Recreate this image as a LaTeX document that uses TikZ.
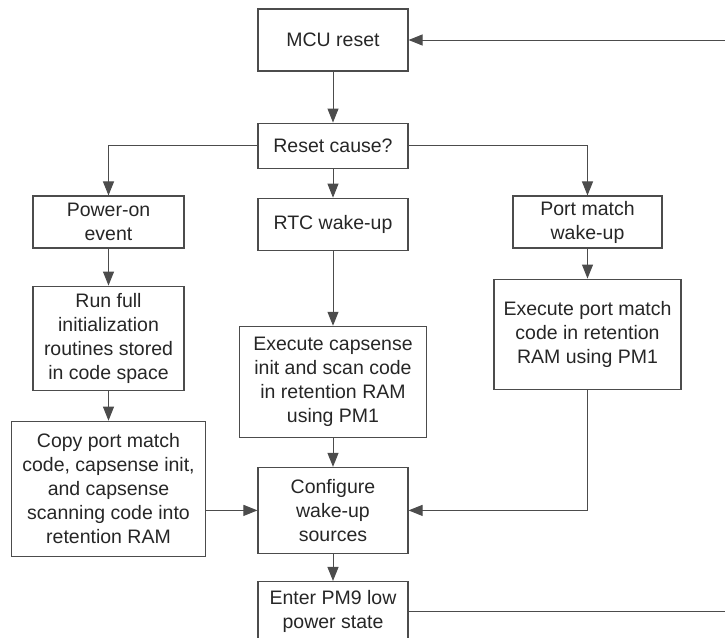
\documentclass[tikz,border=0pt]{standalone}
\usepackage{fontspec}
\setmainfont{Liberation Sans}
\usetikzlibrary{arrows.meta,positioning}
\tikzset{
  b/.style={rectangle,draw=black!70,line width=1.1pt,text=black!85,align=center,inner sep=2pt,minimum width=150pt,font=\fontsize{19.5}{24}\selectfont},
  arr/.style={-{Triangle[length=14pt,width=11pt]},line width=1pt,draw=black!70},
}

\begin{document}
\begin{tikzpicture}[x=1pt,y=-1pt,node distance=29pt]
  \useasboundingbox (0,0) rectangle (725,637);
  \clip (0,0) rectangle (725,637);
  \node[b,minimum height=62pt] (mcu) at (333,40) {MCU reset};
  \node[b,minimum height=45pt,below=51pt of mcu] (cause) {Reset cause?};
  \node[b,minimum height=52pt,below=of cause] (rtc) {RTC wake-up};
  \node[b,minimum width=151pt,minimum height=52pt] (pwr) at (108.5,222) {Power-on\\event};
  \node[b,minimum width=149pt,minimum height=52pt] (pmw) at (587.5,222) {Port match\\wake-up};
  \node[b,minimum width=151pt,minimum height=104pt,below=37pt of pwr] (run) {Run full\\initialization\\routines stored\\in code space};
  \node[b,minimum width=194pt,minimum height=135pt,below=30pt of run] (copy) {Copy port match\\code, capsense init,\\and capsense\\scanning code into\\retention RAM};
  \node[b,minimum width=187pt,minimum height=111pt,below=75pt of rtc] (cap) {Execute capsense\\init and scan code\\in retention RAM\\using PM1};
  \node[b,minimum height=86pt,below=of cap] (cfg) {Configure\\wake-up\\sources};
  \node[b,minimum height=60pt,below=27pt of cfg] (pm9) {Enter PM9 low\\power state};
  \node[b,minimum width=187pt,minimum height=110pt,below=30pt of pmw] (pme) {Execute port match\\code in retention\\RAM using PM1};
  \coordinate (back) at (745,40);
  % reset cause branches
  \draw[arr] (mcu) -- (cause);
  \draw[arr] (cause.west) -| (pwr.north);
  \draw[arr] (cause) -- (rtc);
  \draw[arr] (cause.east) -| (pmw.north);
  % columns
  \draw[arr] (pwr) -- (run);
  \draw[arr] (run) -- (copy);
  \draw[arr] (rtc) -- (cap);
  \draw[arr] (cap) -- (cfg);
  \draw[arr] (pmw) -- (pme);
  \draw[arr] (cfg.west -| copy.east) -- (cfg.west);
  \draw[arr] (pme.south) |- (cfg.east);
  \draw[arr] (cfg) -- (pm9);
  % back to reset
  \draw[arr] (pm9.east) -| (back) -- (mcu.east);
\end{tikzpicture}
\end{document}
